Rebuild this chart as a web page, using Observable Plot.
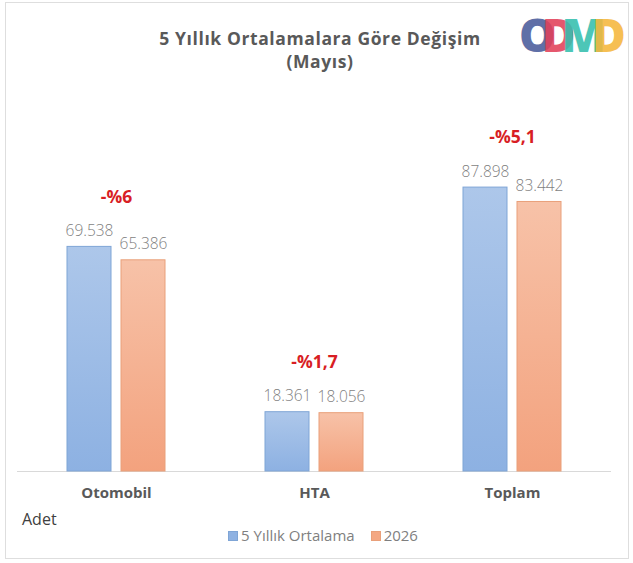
<!DOCTYPE html>
<html><head><meta charset="utf-8">
<script src="https://cdn.jsdelivr.net/npm/d3@7"></script>
<script src="https://cdn.jsdelivr.net/npm/@observablehq/plot@0.6"></script>
<style>
body{margin:0;background:#fff;font-family:"Open Sans",Lato,sans-serif;}
#wrap{position:relative;width:633px;height:563px;overflow:hidden;}
#frame{position:absolute;left:5px;top:2px;width:624px;height:557px;border:1.5px solid #dedede;box-sizing:border-box;}
#title{position:absolute;left:0;width:640px;top:27px;text-align:center;color:#595959;font-weight:bold;font-size:17.5px;letter-spacing:0.6px;line-height:23px;}
#logo{position:absolute;left:519px;top:8px;font-family:"Open Sans";font-weight:800;font-size:46px;letter-spacing:-14px;line-height:52px;}
#logo span{opacity:.88}
#chart{position:absolute;left:0;top:90px;}
#adet{position:absolute;left:22px;top:508px;font-size:16px;color:#404040;}
#legend{position:absolute;left:0;width:646px;top:525px;text-align:center;font-size:15px;color:#7f7f7f;}
#legend i{display:inline-block;width:8px;height:8px;margin-right:3px;vertical-align:0px;}
</style></head>
<body>
<div id="wrap">
<div id="frame"></div>
<div id="title">5 Yıllık Ortalamalara Göre Değişim<br>(Mayıs)</div>
<div id="logo"><span style="color:#4a5c9c">O</span><span style="color:#e2405a">D</span><span style="color:#35bfae">M</span><span style="color:#f5b73c">D</span></div>
<div id="chart"></div>
<div id="adet">Adet</div>
<div id="legend"></div>
</div>
<script>
const categories = ["Otomobil", "HTA", "Toplam"];
const series = ["5 Yıllık Ortalama", "2026"];
const avgValues = [69538, 18361, 87898];
const values2026 = [65386, 18056, 83442];
const changeLabels = ["-%6", "-%1,7", "-%5,1"];

const data = [];
categories.forEach((c, i) => {
  data.push({cat: c, series: series[0], value: avgValues[i]});
  data.push({cat: c, series: series[1], value: values2026[i]});
});
const changes = categories.map((c, i) => ({cat: c, label: changeLabels[i], top: Math.max(avgValues[i], values2026[i])}));

const loc = d3.formatLocale({decimal: ",", thousands: ".", grouping: [3], currency: ["", ""]});
const fmt = loc.format(",d");

const font = '"Open Sans", Lato, sans-serif';
const plot = Plot.plot({
  width: 633,
  height: 415,
  marginLeft: 17,
  marginRight: 22,
  marginTop: 58,
  marginBottom: 34,
  style: {fontFamily: font, background: "transparent", overflow: "visible"},
  fx: {domain: categories, padding: 0, label: null},
  x: {domain: series, paddingInner: 0.1818, paddingOuter: 0.891, axis: null},
  y: {domain: [0, 100000], axis: null},
  marks: [
    Plot.ruleY([0], {stroke: "#d9d9d9", strokeWidth: 1.2}),
    Plot.barY(data.filter(d => d.series === series[0]), {fx: "cat", x: "series", y: "value", fill: "url(#gBlue)", stroke: "#7fa5d6", strokeWidth: 1}),
    Plot.barY(data.filter(d => d.series === series[1]), {fx: "cat", x: "series", y: "value", fill: "url(#gOrange)", stroke: "#e9a07a", strokeWidth: 1}),
    Plot.text(data, {fx: "cat", x: "series", y: "value", text: d => fmt(d.value), dy: -16, fill: "#7f7f7f", fontSize: 15.5, fontWeight: 300}),
    Plot.text(changes, {fx: "cat", frameAnchor: "middle", y: "top", text: "label", dy: -50, fill: "#d81e24", fontSize: 17.5, fontWeight: "bold"}),
    Plot.axisFx({anchor: "bottom", tickSize: 0, tickPadding: 16, fontSize: 15, fontWeight: "bold", color: "#595959", label: null})
  ]
});

const svg = d3.select(plot);
const defs = svg.insert("defs", ":first-child");
const gb = defs.append("linearGradient").attr("id", "gBlue").attr("x1", 0).attr("x2", 0).attr("y1", 0).attr("y2", 1);
gb.append("stop").attr("offset", "0%").attr("stop-color", "#adc7ea");
gb.append("stop").attr("offset", "100%").attr("stop-color", "#8db1e2");
const go = defs.append("linearGradient").attr("id", "gOrange").attr("x1", 0).attr("x2", 0).attr("y1", 0).attr("y2", 1);
go.append("stop").attr("offset", "0%").attr("stop-color", "#f7c2a8");
go.append("stop").attr("offset", "100%").attr("stop-color", "#f3a27e");
document.getElementById("chart").appendChild(plot);

const lg = document.getElementById("legend");
lg.innerHTML = `<i style="background:#8fb2e2;border:1px solid #7fa5d6"></i>${series[0]}<span style="display:inline-block;width:16px"></span><i style="background:#f4a883;border:1px solid #e9a07a"></i>${series[1]}`;
</script>
</body></html>
